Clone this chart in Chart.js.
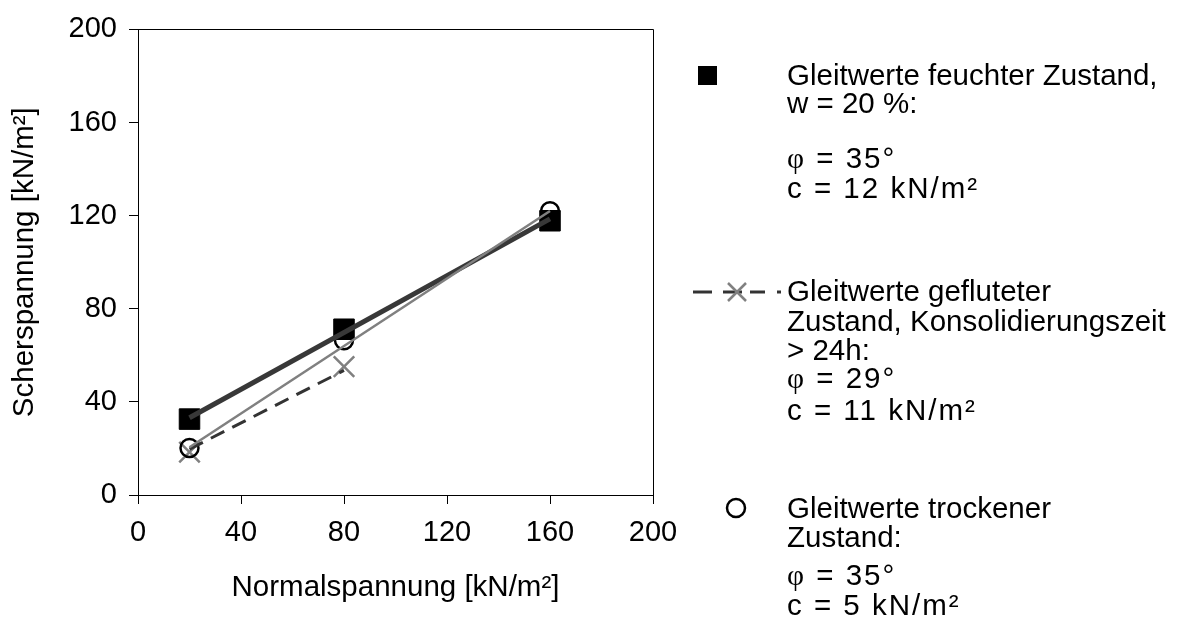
<!DOCTYPE html>
<html>
<head>
<meta charset="utf-8">
<script src="https://cdn.jsdelivr.net/npm/chart.js@4.4.1/dist/chart.umd.min.js"></script>
<style>
  html, body { margin: 0; padding: 0; background: #fff; }
  #wrap { position: relative; width: 1179px; height: 626px; }
  #chart { position: absolute; left: 0; top: 0; }
  .lg { position: absolute; left: 787px; font-family: "Liberation Sans", Arial, sans-serif; font-size: 29.5px; line-height: 32px; color: #000; white-space: nowrap; }
  .sp { letter-spacing: 2px; }
  .phi { font-family: "Liberation Serif", "Times New Roman", serif; }
  .mk { position: absolute; }
</style>
</head>
<body>
<div id="wrap">
  <canvas id="chart" width="1179" height="626"></canvas>

  <svg class="mk" style="left:698px;top:66px" width="20" height="20"><rect x="0" y="0" width="19" height="19" fill="#000"/></svg>
  <div class="lg" style="top:59px">Gleitwerte feuchter Zustand,</div>
  <div class="lg" style="top:87px">w = 20 %:</div>
  <div class="lg sp" style="top:142px"><span class="phi">φ</span> = 35°</div>
  <div class="lg sp" style="top:172px">c = 12 kN/m²</div>

  <svg class="mk" style="left:690px;top:280px" width="96" height="24">
    <line x1="3" y1="12" x2="22" y2="12" stroke="#333" stroke-width="3"/>
    <line x1="33" y1="12" x2="52" y2="12" stroke="#333" stroke-width="3"/>
    <line x1="60" y1="12" x2="75" y2="12" stroke="#333" stroke-width="3"/>
    <line x1="87" y1="12" x2="91" y2="12" stroke="#333" stroke-width="3"/>
    <line x1="38" y1="3" x2="56" y2="21" stroke="#808080" stroke-width="2.5"/>
    <line x1="56" y1="3" x2="38" y2="21" stroke="#808080" stroke-width="2.5"/>
  </svg>
  <div class="lg" style="top:275px">Gleitwerte gefluteter</div>
  <div class="lg" style="top:305px">Zustand, Konsolidierungszeit</div>
  <div class="lg" style="top:334px">&gt; 24h:</div>
  <div class="lg sp" style="top:362px"><span class="phi">φ</span> = 29°</div>
  <div class="lg sp" style="top:394px">c = 11 kN/m²</div>

  <svg class="mk" style="left:724px;top:496px" width="24" height="24"><circle cx="12" cy="12" r="9" fill="none" stroke="#000" stroke-width="2.5"/></svg>
  <div class="lg" style="top:492px">Gleitwerte trockener</div>
  <div class="lg" style="top:521px">Zustand:</div>
  <div class="lg sp" style="top:559px"><span class="phi">φ</span> = 35°</div>
  <div class="lg sp" style="top:589px">c = 5 kN/m²</div>
</div>

<script>
// Messwerte
const normalX = [20, 80, 160];
const feucht = [32.6, 71.2, 117.8];
const trocken = [20.2, 66.5, 121.9];
const geflutetX = [20, 80];
const geflutet = [18.4, 55.1];

// Ausgleichsgeraden
const fitX = [20, 160];
const feuchtFit = [33.2, 118.6];
const trockenFit = [20.5, 122.0];
const geflutetFit = [19.7, 53.5];

const axisTicks = [0, 40, 80, 120, 160, 200];

const FONT = "'Liberation Sans', Arial, sans-serif";

function pts(xs, ys) {
  return xs.map((x, i) => ({ x: x, y: ys[i] }));
}

const frame = {
  id: 'frame',
  beforeDatasetsDraw(chart) {
    const a = chart.chartArea;
    const ctx = chart.ctx;
    ctx.save();
    ctx.strokeStyle = '#000';
    ctx.lineWidth = 1;
    ctx.beginPath();
    ctx.moveTo(Math.round(a.left) + 0.5, Math.round(a.top) + 0.5);
    ctx.lineTo(Math.round(a.right) + 0.5, Math.round(a.top) + 0.5);
    ctx.lineTo(Math.round(a.right) + 0.5, Math.round(a.bottom) + 0.5);
    ctx.stroke();
    ctx.restore();
  },
};

function axis(title) {
  return {
    type: 'linear',
    min: 0,
    max: 200,
    afterBuildTicks: (s) => { s.ticks = axisTicks.map((v) => ({ value: v })); },
    ticks: { color: '#000', font: { family: FONT, size: 29 }, padding: 12 },
    grid: { drawOnChartArea: false, drawTicks: true, tickLength: 9, color: '#000', tickColor: '#000' },
    border: { display: true, color: '#000', width: 1 },
    title: { display: true, text: title, color: '#000', font: { family: FONT, size: 29.5 } },
  };
}

const xScale = axis('Normalspannung [kN/m²]');
xScale.afterFit = (s) => { s.height = 131; };
xScale.title.padding = { top: 0, bottom: 20 };
const yScale = axis('Scherspannung [kN/m²]');
yScale.afterFit = (s) => { s.width = 138; };
yScale.title.padding = { top: 7, bottom: 0 };

new Chart(document.getElementById('chart'), {
  type: 'scatter',
  data: {
    datasets: [
      {
        label: 'trocken fit',
        data: pts(fitX, trockenFit),
        showLine: true,
        borderColor: '#808080',
        borderWidth: 2.5,
        pointRadius: 0,
        order: 1,
      },
      {
        label: 'feucht fit',
        data: pts(fitX, feuchtFit),
        showLine: true,
        borderColor: '#383838',
        borderWidth: 5,
        pointRadius: 0,
        order: 2,
      },
      {
        label: 'geflutet fit',
        data: pts(geflutetX, geflutetFit),
        showLine: true,
        borderColor: '#333',
        borderWidth: 3,
        borderDash: [15, 9],
        pointRadius: 0,
        order: 3,
      },
      {
        label: 'Gleitwerte trockener Zustand',
        data: pts(normalX, trocken),
        pointStyle: 'circle',
        pointRadius: 9,
        pointBorderWidth: 2.5,
        pointBorderColor: '#000',
        pointBackgroundColor: 'rgba(0,0,0,0)',
        order: 4,
      },
      {
        label: 'Gleitwerte gefluteter Zustand',
        data: pts(geflutetX, geflutet),
        pointStyle: 'crossRot',
        pointRadius: 14.5,
        pointBorderWidth: 2.5,
        pointBorderColor: '#808080',
        order: 5,
      },
      {
        label: 'Gleitwerte feuchter Zustand',
        data: pts(normalX, feucht),
        pointStyle: 'rect',
        pointRadius: 14.5,
        pointBorderWidth: 1,
        pointBorderColor: '#000',
        pointBackgroundColor: '#000',
        order: 6,
      },
    ],
  },
  options: {
    responsive: false,
    animation: false,
    layout: { padding: { top: 23, right: 526, left: 0, bottom: 0 } },
    scales: { x: xScale, y: yScale },
    plugins: {
      legend: { display: false },
      tooltip: { enabled: false },
    },
  },
  plugins: [frame],
});
</script>
</body>
</html>
